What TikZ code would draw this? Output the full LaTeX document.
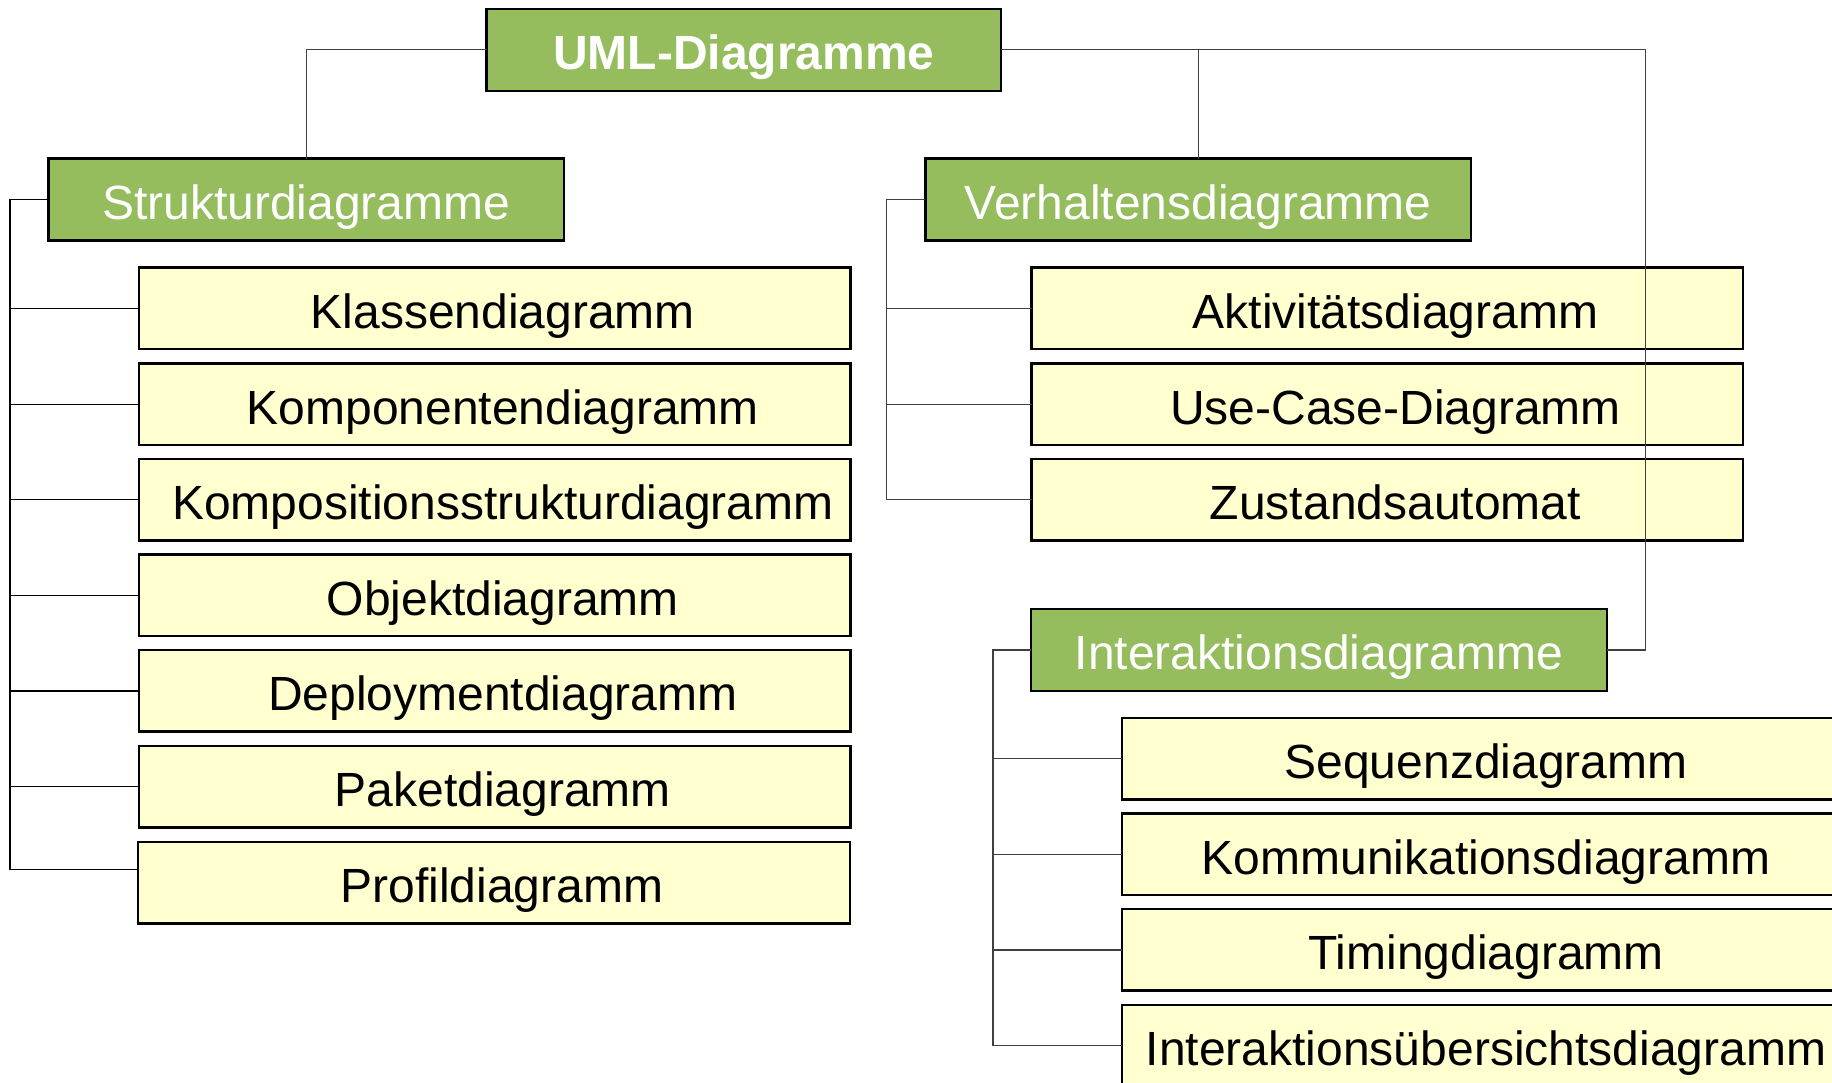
\documentclass[tikz,border=0pt]{standalone}
\usepackage{fontspec}
\setmainfont{Liberation Sans}
\definecolor{headgreen}{RGB}{149,189,94}
\definecolor{leafyellow}{RGB}{255,255,208}
\begin{document}
\begin{tikzpicture}[x=1pt,y=-1pt,
  box/.style={draw=black,line width=2.5pt,outer sep=0pt,inner sep=0pt,
    font=\fontsize{48}{58}\selectfont,text height=44pt,text depth=4pt},
  head/.style={box,fill=headgreen,text=white,minimum height=82pt},
  leaf/.style={box,fill=leafyellow,text=black,minimum width=711.6pt,minimum height=81.5pt,
    execute at begin node={\hspace*{16pt}}},
  conn/.style={draw=black!75,line width=1.2pt},
  trunk/.style={draw=black,line width=1.2pt}]
\useasboundingbox (0,0) rectangle (1832,1083);
\begin{scope}
\clip (0,0) rectangle (1832,1083);

% root and category headings
\node[head,minimum width=514.4pt,font=\fontsize{48}{58}\selectfont\bfseries] (uml) at (743.8,49.9) {UML-Diagramme};
\node[head,minimum width=515.3pt] (struk) at (306.2,199.7) {Strukturdiagramme};
\node[head,minimum width=545.6pt] (verh) at (1198.2,199.7) {Verhaltensdiagramme};
\node[head,minimum width=576pt] (inter) at (1319,649.9) {Interaktionsdiagramme};

% structure diagrams
\node[leaf] (klassen) at (494.8,308.5) {Klassendiagramm};
\node[leaf] (kompon) at (494.8,404.1) {Komponentendiagramm};
\node[leaf] (komposit) at (494.8,499.7) {Kompositionsstrukturdiagramm};
\node[leaf] (objekt) at (494.8,595.3) {Objektdiagramm};
\node[leaf] (deploy) at (494.8,690.9) {Deploymentdiagramm};
\node[leaf] (paket) at (494.8,786.5) {Paketdiagramm};
\node[leaf] (profil) at (494.0,882.6) {Profildiagramm};

% behaviour diagrams
\node[leaf] (aktiv) at (1387.4,308.5) {Aktivitätsdiagramm};
\node[leaf] (usecase) at (1387.4,404.1) {Use-Case-Diagramm};
\node[leaf] (zustand) at (1387.4,499.7) {Zustandsautomat};

% interaction diagrams
\node[leaf] (sequenz) at (1478,758.7) {Sequenzdiagramm};
\node[leaf] (kommun) at (1478,854.3) {Kommunikationsdiagramm};
\node[leaf] (timing) at (1478,949.9) {Timingdiagramm};
\node[leaf] (uebers) at (1478,1045.5) {Interaktionsübersichtsdiagramm};

% trunk positions, the bend towards the interaction branch,
% and the raised attachment point on the last structure box
\coordinate (strunk) at (10,0);
\coordinate (vtrunk) at (886.8,0);
\coordinate (itrunk) at (993,0);
\coordinate (bend) at (1645.5,49.9);
\coordinate (profend) at ([yshift=13pt]profil.west);

% top level connectors
\draw[conn] (uml.west) -| (struk.north);
\draw[conn] (uml.east) -| (verh.north);
\draw[conn] (uml.east) -- (bend) |- (inter.east);

% structure branch
\foreach \c in {klassen,kompon,komposit,objekt,deploy,paket}
  \draw[trunk] (struk.west) -| (strunk |- \c.west) -- (\c.west);
\draw[trunk] (struk.west) -| (strunk |- profend) -- (profend);

% behaviour branch
\foreach \c in {aktiv,usecase,zustand}
  \draw[conn] (verh.west) -| (vtrunk |- \c.west) -- (\c.west);

% interaction branch
\foreach \c in {sequenz,kommun,timing,uebers}
  \draw[conn] (inter.west) -| (itrunk |- \c.west) -- (\c.west);
\end{scope}
\end{tikzpicture}
\end{document}
